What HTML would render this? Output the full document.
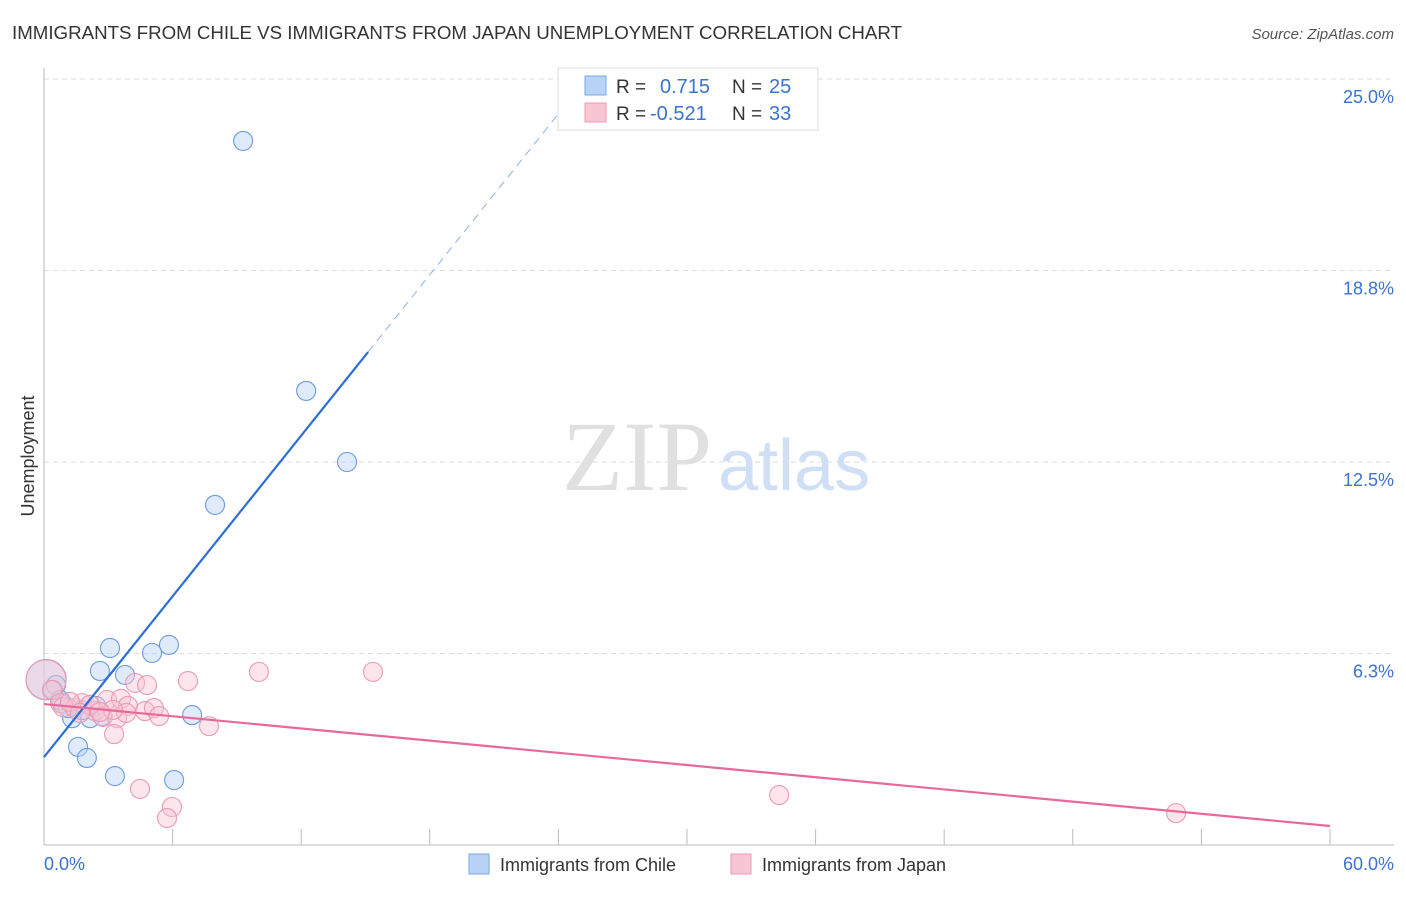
<!DOCTYPE html>
<html><head><meta charset="utf-8">
<style>
body{margin:0;background:#fff;font-family:"Liberation Sans",sans-serif;}
svg text{font-family:"Liberation Sans",sans-serif;}
</style></head>
<body>
<svg id="chart" width="1406" height="892">
<text x="12" y="39" font-size="18" fill="#333" textLength="890" lengthAdjust="spacingAndGlyphs">IMMIGRANTS FROM CHILE VS IMMIGRANTS FROM JAPAN UNEMPLOYMENT CORRELATION CHART</text>
<text x="1394" y="39" font-size="15" fill="#555" font-style="italic" text-anchor="end">Source: ZipAtlas.com</text>
<g id="grid"></g>
<text x="712" y="490" font-size="100" fill="#e0e0e0" text-anchor="end" style="font-family:'Liberation Serif',serif">ZIP</text>
<text x="718" y="490" font-size="72" fill="#cfdff5">atlas</text>
<g id="axes"></g>
<g id="marks"></g>
<text x="34" y="456" font-size="18" fill="#333" text-anchor="middle" transform="rotate(-90 34 456)">Unemployment</text>
<g>
<rect x="558" y="68" width="260" height="62" fill="#fff" stroke="#ddd"/>
<rect x="585" y="76" width="21" height="19" fill="#b8d3f5" stroke="#7aa7e6"/>
<rect x="585" y="103" width="21" height="19" fill="#f8c5d3" stroke="#ef99b4"/>
<text x="616" y="93" font-size="19" fill="#333">R = </text><text x="660" y="93" font-size="20" fill="#3a73d0">0.715</text>
<text x="732" y="93" font-size="19" fill="#333">N = </text><text x="769" y="93" font-size="20" fill="#3a73d0">25</text>
<text x="616" y="120" font-size="19" fill="#333">R = </text><text x="650" y="120" font-size="20" fill="#3a73d0">-0.521</text>
<text x="732" y="120" font-size="19" fill="#333">N = </text><text x="769" y="120" font-size="20" fill="#3a73d0">33</text>
</g>
<g>
<rect x="469" y="854" width="20" height="20" fill="#b8d3f5" stroke="#7aa7e6"/>
<text x="500" y="871" font-size="18" fill="#333">Immigrants from Chile</text>
<rect x="731" y="854" width="20" height="20" fill="#f8c5d3" stroke="#ef99b4"/>
<text x="762" y="871" font-size="18" fill="#333">Immigrants from Japan</text>
</g>
</svg>
<script>
const yTicks=[6.25,12.5,18.75,25];
const yTickLabels=["6.3%","12.5%","18.8%","25.0%"];
const xTicks=[0,6,12,18,24,30,36,42,48,54,60];
const chileX=[9.29,12.23,14.14,7.98,3.08,5.83,5.04,2.61,3.78,0.1,0.42,0.56,0.84,1.31,2.43,2.15,2.71,6.91,1.59,2.0,3.31,6.07,1.77,0.75,1.12];
const chileY=[22.98,14.82,12.5,11.1,6.43,6.53,6.27,5.68,5.55,5.4,5.06,5.22,4.63,4.14,4.54,4.14,4.21,4.24,3.2,2.84,2.25,2.12,4.4,4.73,4.47];
const japanX=[0.09,0.37,0.75,0.89,1.45,1.77,2.38,2.75,3.41,2.94,3.59,3.92,3.83,4.25,4.81,4.71,5.13,5.37,6.72,7.70,3.27,4.48,5.97,5.74,10.03,15.35,34.30,52.82,2.15,1.21,3.22,2.61,1.68];
const japanY=[5.39,5.06,4.63,4.50,4.47,4.63,4.37,4.18,4.14,4.73,4.77,4.54,4.31,5.29,5.22,4.37,4.47,4.21,5.35,3.88,3.62,1.83,1.24,0.88,5.65,5.65,1.63,1.04,4.57,4.67,4.41,4.34,4.31];
const chileTrend=[0,2.87,15.12,16.09,25.3,25.0];
const japanTrend=[0,4.6,60,0.62];
const NS='http://www.w3.org/2000/svg';
const X=v=>44+v*21.433, Y=v=>845-v*30.64;
function mk(p,t,a){const e=document.createElementNS(NS,t);for(const k in a)e.setAttribute(k,a[k]);p.appendChild(e);return e;}
const grid=document.getElementById('grid'),axes=document.getElementById('axes'),marks=document.getElementById('marks');
yTicks.forEach((t,i)=>{
 const l=mk(grid,'line',{x1:44,x2:1394,y1:Y(t),y2:Y(t),stroke:'#ddd','stroke-dasharray':'5,4'});
 
 
 const tx=mk(axes,'text',{x:1394,y:Y(t)+24,'font-size':18,fill:'#3a73d0','text-anchor':'end'});tx.textContent=yTickLabels[i];
 
 
});
mk(axes,'line',{x1:44,x2:44,y1:68,y2:845,stroke:'#bbb'});
mk(axes,'line',{x1:44,x2:1394,y1:845,y2:845,stroke:'#bbb'});
xTicks.forEach(t=>{const l=mk(axes,'line',{x1:X(t),x2:X(t),y1:829,y2:845,stroke:'#bbb'});
 
 });
let a=mk(axes,'text',{x:44,y:870,'font-size':18,fill:'#3a73d0'});a.textContent='0.0%';


a=mk(axes,'text',{x:1394,y:870,'font-size':18,fill:'#3a73d0','text-anchor':'end'});a.textContent='60.0%';


function dot(x,y,big,fill,stroke,name){const c=mk(marks,'circle',{cx:X(x),cy:Y(y),r:big?20:9.5,fill:fill,'fill-opacity':0.45,stroke:stroke,'stroke-width':1.1});
 
 }
chileX.forEach((x,i)=>dot(x,chileY[i],i===9,'#b8d3f5','#6a9be0','chile-point'));
japanX.forEach((x,i)=>dot(x,japanY[i],i===0,'#f8c5d3','#ec9ab4','japan-point'));
let t=mk(marks,'line',{x1:X(chileTrend[0]),y1:Y(chileTrend[1]),x2:X(chileTrend[2]),y2:Y(chileTrend[3]),stroke:'#2a6fd6','stroke-width':2.2});


t=mk(marks,'line',{x1:X(chileTrend[2]),y1:Y(chileTrend[3]),x2:X(chileTrend[4]),y2:Y(chileTrend[5]),stroke:'#8fb1e6','stroke-width':1,'stroke-dasharray':'8,6'});


t=mk(marks,'line',{x1:X(japanTrend[0]),y1:Y(japanTrend[1]),x2:X(japanTrend[2]),y2:Y(japanTrend[3]),stroke:'#e8689a','stroke-width':2.2});


</script>
</body></html>
